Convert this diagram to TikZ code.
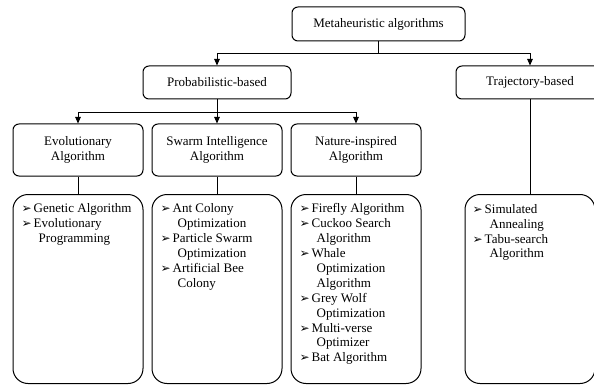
\documentclass[tikz,border=0pt]{standalone}
\usepackage{fontspec}
\setmainfont{Liberation Serif}
\newfontfamily\dejavu{DejaVu Sans}
\usetikzlibrary{arrows.meta,calc}
\newcommand{\blt}{\makebox[12pt][l]{\raisebox{0pt}{\dejavu\fontsize{12}{12}\selectfont ➢}}}
\newcommand{\cnt}{\hspace*{17pt}}
\begin{document}
\begin{tikzpicture}[x=1pt,y=-1pt,
  txt/.style={font={\fontsize{13}{14.5}\selectfont}},
  box/.style={draw,line width=1pt,rounded corners=6pt,inner sep=0pt,align=center,txt},
  bigbox/.style={draw,line width=1pt,rounded corners=15pt,inner sep=0pt,minimum width=130pt,minimum height=189pt},
  lst/.style={anchor=north west,inner sep=0pt,align=left,font={\fontsize{13}{14.9}\selectfont}},
  conn/.style={line width=1pt},
  arr/.style={conn,-{Triangle[width=5.5pt,length=6.5pt]}}]
\useasboundingbox (0,0) rectangle (594,385);
\clip (0,0) rectangle (594,385);
% level 1
\node[box,minimum width=173pt,minimum height=34pt] (m) at (378.5,24) {Metaheuristic algorithms};
% level 2
\node[box,minimum width=148pt,minimum height=33pt] (p) at (217,82.5) {Probabilistic-based};
\node[box,minimum width=148pt,minimum height=33pt] (t) at (530,82.5) {Trajectory-based};
% level 3
\node[box,minimum width=130pt,minimum height=52pt] (e) at (78,150) {Evolutionary\\Algorithm};
\node[box,minimum width=130pt,minimum height=52pt] (s) at (217,150) {Swarm Intelligence\\Algorithm};
\node[box,minimum width=130pt,minimum height=52pt] (n) at (356,150) {Nature-inspired\\Algorithm};
% level 4
\node[bigbox] (e4) at (78,289) {};
\node[bigbox] (s4) at (217,289) {};
\node[bigbox] (n4) at (356,289) {};
\node[bigbox] (t4) at (530,289) {};
% lists
\node[lst] (el) at ($(e4.north west)+(9,9.5)$) {\blt Genetic Algorithm\\ \blt Evolutionary\\ \cnt Programming};
\node[lst] (sl) at ($(s4.north west)+(9,9.5)$) {\blt Ant Colony\\ \cnt Optimization\\ \blt Particle Swarm\\ \cnt Optimization\\ \blt Artificial Bee\\ \cnt Colony};
\node[lst] (nl) at ($(n4.north west)+(9,9.5)$) {\blt Firefly Algorithm\\ \blt Cuckoo Search\\ \cnt Algorithm\\ \blt Whale\\ \cnt Optimization\\ \cnt Algorithm\\ \blt Grey Wolf\\ \cnt Optimization\\ \blt Multi-verse\\ \cnt Optimizer\\ \blt Bat Algorithm};
\node[lst] (tl) at ($(t4.north west)+(8,10)$) {\blt Simulated\\ \cnt Annealing\\ \blt Tabu-search\\ \cnt Algorithm};
% connectors
\coordinate (j1) at ($(m.south)+(0,12)$);
\draw[conn] (m.south) -- (j1);
\draw[arr] (j1) -| (p.north);
\draw[arr] (j1) -| (t.north);
\coordinate (j2) at ($(p.south)+(0,13)$);
\draw[conn] (p.south) -- (j2);
\draw[arr] (j2) -| (e.north);
\draw[arr] (j2) -- (s.north);
\draw[arr] (j2) -| (n.north);
\draw[conn] (e.south) -- (e4.north);
\draw[conn] (s.south) -- (s4.north);
\draw[conn] (n.south) -- (n4.north);
\draw[conn] (t.south) -- (t4.north);
\end{tikzpicture}
\end{document}
